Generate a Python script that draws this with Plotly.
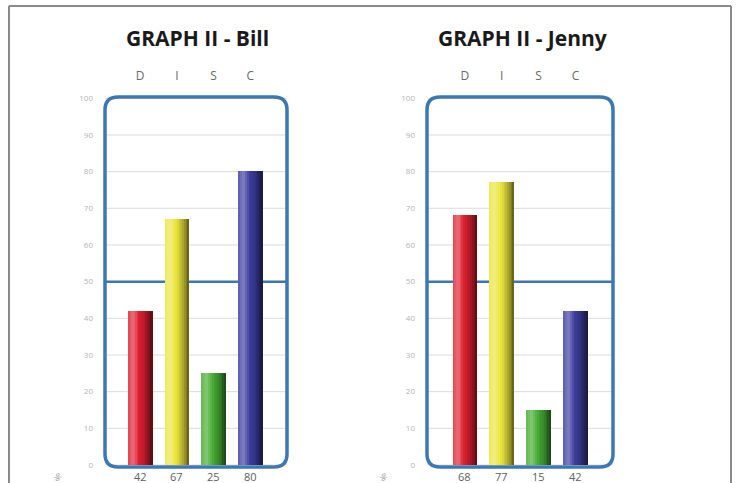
import plotly.graph_objects as go

# ---- data ----
categories = ["D", "I", "S", "C"]
bill_values = [42, 67, 25, 80]
jenny_values = [68, 77, 15, 42]
chart_titles = ["GRAPH II - Bill", "GRAPH II - Jenny"]
y_ticks = [0, 10, 20, 30, 40, 50, 60, 70, 80, 90, 100]
midline_value = 50

# ---- styles ----
W, H = 736, 483
base_colors = [(222, 32, 48), (236, 230, 62), (72, 172, 52), (62, 62, 162)]
box_color = "#3d78b3"
N_STRIPS = 14
BAR_W = 0.67
x_ranges = [[-0.96, 4.0], [-1.03, 4.02]]


def px(x):
    return x / W


def py(y):
    return 1 - y / H


def shade(rgb, t):
    # cylinder-like horizontal shading: highlight on the left, dark on the right
    pts = [(0.0, 0.15), (0.22, 0.35), (0.45, 0.0), (0.7, -0.2), (1.0, -0.6)]
    f = 0
    for (t0, v0), (t1, v1) in zip(pts[:-1], pts[1:]):
        if t0 <= t <= t1:
            f = v0 + (v1 - v0) * (t - t0) / (t1 - t0)
            break
    r, g, b = rgb
    if f >= 0:
        r, g, b = [c + (255 - c) * f for c in (r, g, b)]
    else:
        r, g, b = [c * (1 + f) for c in (r, g, b)]
    return "rgb(%d,%d,%d)" % (r, g, b)


fig = go.Figure()

for k, (vals, xa, ya) in enumerate([(bill_values, "x", "y"), (jenny_values, "x2", "y2")]):
    sw = BAR_W / N_STRIPS
    for i in range(N_STRIPS):
        off = -BAR_W / 2 + i * sw
        t = (i + 0.5) / N_STRIPS
        wid = min(sw * 1.6, BAR_W / 2 - off)
        fig.add_trace(go.Bar(
            x=categories, y=vals, xaxis=xa, yaxis=ya,
            width=wid, offset=off,
            marker=dict(color=[shade(c, t) for c in base_colors], line=dict(width=0)),
            showlegend=False, hoverinfo="skip" if i else "x+y",
        ))

ydom = [py(465), py(98.3)]
common_y = dict(range=[0, 100], domain=ydom, tickvals=y_ticks, showgrid=False,
                zeroline=False, showline=False, automargin=False,
                tickfont=dict(family="Open Sans", size=8, color="#b4b4b4"),
                ticklabelstandoff=11, fixedrange=True)
common_x = dict(side="top", showgrid=False, zeroline=False, showline=False,
                automargin=False,
                tickfont=dict(family="Open Sans", size=12, color="#6a6a6a"),
                ticklabelstandoff=15, type="category", fixedrange=True)

fig.update_layout(
    width=W, height=H, margin=dict(l=0, r=0, t=0, b=0, pad=0, autoexpand=False),
    paper_bgcolor="white", plot_bgcolor="white",
    barmode="overlay", bargap=0,
    xaxis=dict(domain=[px(105), px(287)], range=x_ranges[0], anchor="y", **common_x),
    yaxis=dict(anchor="x", **common_y),
    xaxis2=dict(domain=[px(427), px(613)], range=x_ranges[1], anchor="y2", **common_x),
    yaxis2=dict(anchor="x2", **common_y),
)

shapes = []
annotations = []


def rounded_box(x0, y0, x1, y1, r):
    # pixel coords -> paper path with rounded corners
    rx, ry = r / W, r / H
    X0, X1, Y0, Y1 = px(x0), px(x1), py(y1), py(y0)  # Y0 bottom, Y1 top
    return (f"M {X0+rx},{Y1} L {X1-rx},{Y1} Q {X1},{Y1} {X1},{Y1-ry} "
            f"L {X1},{Y0+ry} Q {X1},{Y0} {X1-rx},{Y0} L {X0+rx},{Y0} "
            f"Q {X0},{Y0} {X0},{Y0+ry} L {X0},{Y1-ry} Q {X0},{Y1} {X0+rx},{Y1} Z")


boxes = [(105, 97, 287, 467), (427, 97, 613, 467)]
title_x = [197, 522]
pct_x = [58, 384]
for k, (xa, ya) in enumerate([("x", "y"), ("x2", "y2")]):
    x0, y0, x1, y1 = boxes[k]
    # gridlines (below traces)
    for v in y_ticks:
        shapes.append(dict(type="line", xref=f"{xa} domain", yref=ya, x0=0, x1=1,
                           y0=v, y1=v, line=dict(color="#dcdcdc", width=1),
                           layer="below"))
    # 50% reference line, behind the bars
    shapes.append(dict(type="line", xref=f"{xa} domain", yref=ya, x0=0, x1=1,
                       y0=midline_value, y1=midline_value,
                       line=dict(color=box_color, width=2.5), layer="below"))
    shapes.append(dict(type="path", path=rounded_box(x0, y0, x1, y1, 13),
                       xref="paper", yref="paper",
                       line=dict(color=box_color, width=3.5), layer="above"))
    vals = bill_values if k == 0 else jenny_values
    for c, v in zip(categories, vals):
        annotations.append(dict(x=c, y=py(476), xref=xa, yref="paper", text=str(v),
                                showarrow=False, yanchor="middle",
                                font=dict(family="Open Sans", size=11, color="#606060")))
    annotations.append(dict(x=px(title_x[k]), y=py(38), xref="paper", yref="paper",
                            text="<b>%s</b>" % chart_titles[k], showarrow=False,
                            xanchor="center", yanchor="middle",
                            font=dict(family="Open Sans", size=21, color="#1a1a1a")))
    annotations.append(dict(x=px(pct_x[k]), y=py(476), xref="paper", yref="paper",
                            text="%", showarrow=False, textangle=60,
                            xanchor="center", yanchor="middle",
                            font=dict(family="Open Sans", size=9, color="#999999")))

# outer frame (left, top, right edges; bottom is off the picture)
frame = dict(color="#8a8a8a", width=2)
shapes.append(dict(type="line", xref="paper", yref="paper", x0=px(9), x1=px(9),
                   y0=0, y1=py(6), line=frame, layer="above"))
shapes.append(dict(type="line", xref="paper", yref="paper", x0=px(9), x1=px(731),
                   y0=py(6), y1=py(6), line=frame, layer="above"))
shapes.append(dict(type="line", xref="paper", yref="paper", x0=px(731), x1=px(731),
                   y0=0, y1=py(6), line=frame, layer="above"))

fig.update_layout(shapes=shapes, annotations=annotations)
fig.write_html("out.html")
